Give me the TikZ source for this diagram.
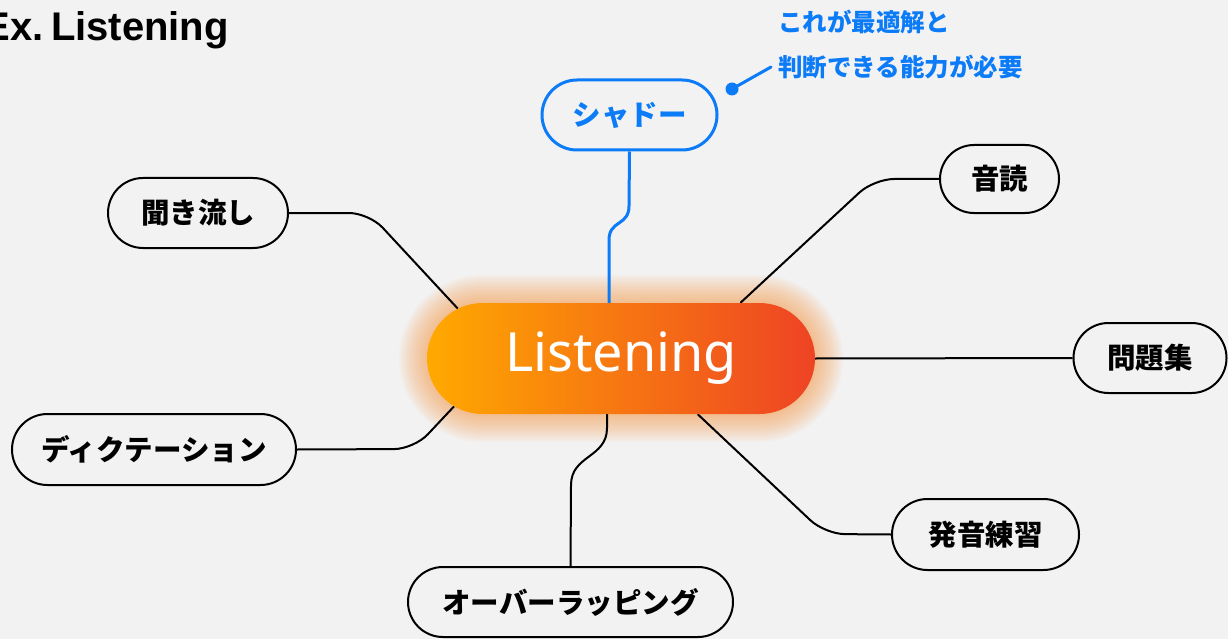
\documentclass[tikz,border=0pt]{standalone}
\usepackage{fontspec}
\setmainfont{Noto Sans}
\newfontfamily\ttl{Liberation Sans}
\newfontfamily\jp{Noto Sans CJK JP}
\usetikzlibrary{shapes.misc,calc}
\definecolor{bgc}{HTML}{F2F2F2}
\definecolor{blueA}{HTML}{0B7BF7}
\definecolor{orA}{HTML}{FFA900}
\definecolor{redA}{HTML}{EE4324}
\definecolor{glowc}{HTML}{F39A45}
\pgfdeclarelayer{bglayer}
\pgfdeclarelayer{lines}
\pgfsetlayers{bglayer,lines,main}
\tikzset{
  pill/.style={rounded rectangle, draw=black, line width=2pt, fill=bgc, inner sep=0pt,
    minimum height=70pt, font=\jp\bfseries\fontsize{28.5}{28.5}\selectfont},
  bluepill/.style={pill, draw=blueA, line width=3pt, text=blueA},
  conn/.style={line width=2pt, rounded corners=20pt},
  blueconn/.style={line width=3pt, draw=blueA},
  glowring/.style={rounded rectangle, fill=glowc, fill opacity=0.05, draw=none, inner sep=0pt}
}
\begin{document}
\begin{tikzpicture}[x=1pt,y=-1pt]
\begin{pgfonlayer}{bglayer}
\fill[bgc] (0,0) rectangle (1228,639);
\end{pgfonlayer}
\useasboundingbox (0,0) rectangle (1228,639);

% title
\node[anchor=base east, inner sep=0pt, font=\ttl\bfseries\fontsize{40}{40}\selectfont] (title) at (229,41) {Ex.\hspace{7pt}Listening};

% central node
\node[rounded rectangle, inner sep=0pt, minimum width=388pt, minimum height=111pt,
  left color=orA, right color=redA, text=white, font=\fontsize{54}{54}\selectfont] (c) at (621,358.5) {Listening};

% outer nodes
\node[bluepill, minimum width=175pt] (shd) at (629.5,115) {シャドー};
\node[pill, minimum width=119pt, minimum height=68pt] (onb) at (999.5,179) {音読};
\node[pill, minimum width=153pt] (mon) at (1150,358) {問題集};
\node[pill, minimum width=187pt, minimum height=71pt] (hat) at (985.5,534.5) {発音練習};
\node[pill, minimum width=325pt] (ovl) at (570.5,602) {オーバーラッピング};
\node[pill, minimum width=284pt, minimum height=71pt] (dic) at (154,449.5) {ディクテーション};
\node[pill, minimum width=180pt] (kik) at (198,213) {聞き流し};

% annotation
\node[anchor=west, inner sep=0pt, align=left, text=blueA,
  font=\jp\bfseries\fontsize{24.5}{45}\selectfont] (note) at (778,44.5) {これが最適解と\\判断できる能力が必要};
\coordinate (dot) at (732,89);
\coordinate (noteend) at (771,67);
\fill[blueA] (dot) circle (6.5pt);
\draw[blueA, line width=3pt, line cap=round] (dot) -- (noteend);

\begin{pgfonlayer}{lines}
% glow
\foreach \g in {2,4,...,28}{
  \node[glowring, minimum width={388pt+2*\g pt}, minimum height={111pt+2*\g pt}] at (c.center) {};
}
\draw[blueconn] ($(c.north)+(-12,0)$) -- (609,240) .. controls (609,220) and (629,226) .. (629,206) -- (shd.south);
\draw[conn] (kik.east) -- (369,213) -- (c.163);
\draw[conn] (onb.west) -- (874,179) -- (c.25);
\draw[conn] (c.east) -- (mon.west);
\draw[conn] (c.-36) -- (825,534) -- (hat.west);
\draw[line width=2pt] ($(c.south)+(-14,0)$) -- (607,428) .. controls (607,458) and (571,455) .. (571,485) -- (ovl.north);
\draw[conn] (dic.east) -- (414,449) -- (c.196);
\end{pgfonlayer}
\end{tikzpicture}
\end{document}
